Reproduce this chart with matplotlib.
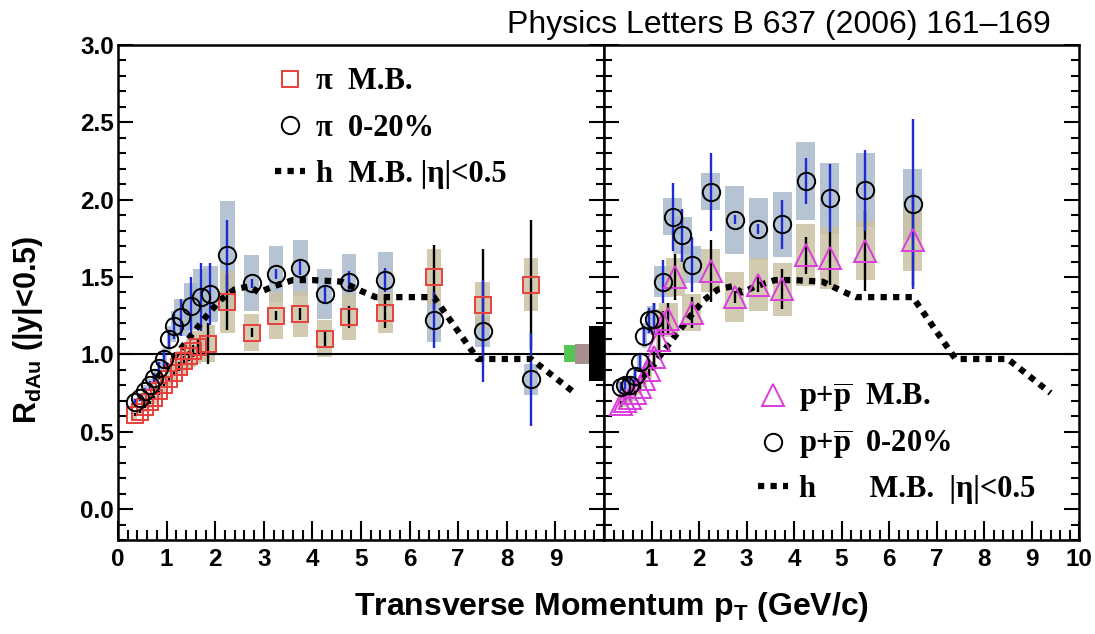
import numpy as np
import matplotlib
matplotlib.use("Agg")
import matplotlib.pyplot as plt
from matplotlib.ticker import MultipleLocator

plt.rcParams['font.family'] = ['Liberation Sans', 'DejaVu Sans']
plt.rcParams['mathtext.fontset'] = 'custom'
plt.rcParams['mathtext.sf'] = 'Liberation Sans:bold'
plt.rcParams['mathtext.bf'] = 'Liberation Serif:bold'
plt.rcParams['mathtext.rm'] = 'Liberation Serif:bold'

# ---- left panel: pions ----
pi_mb_pt = [0.35, 0.45, 0.55, 0.65, 0.75, 0.85, 0.95, 1.05, 1.15, 1.25, 1.35, 1.45, 1.55, 1.65, 1.85,
            2.25, 2.75, 3.25, 3.75, 4.25, 4.75, 5.5, 6.5, 7.5, 8.5]
pi_mb_r = [0.61, 0.63, 0.66, 0.69, 0.72, 0.76, 0.80, 0.84, 0.88, 0.92, 0.96, 0.99, 1.02, 1.05, 1.07,
           1.34, 1.14, 1.25, 1.26, 1.10, 1.24, 1.27, 1.50, 1.32, 1.45]
pi_mb_stat = [0.01, 0.01, 0.01, 0.01, 0.01, 0.02, 0.02, 0.02, 0.02, 0.03, 0.03, 0.03, 0.04, 0.05, 0.13,
              0.18, 0.03, 0.03, 0.04, 0.05, 0.07, 0.10, 0.21, 0.36, 0.42]
pi_mb_sys = [0.03, 0.03, 0.03, 0.04, 0.04, 0.04, 0.05, 0.05, 0.05, 0.06, 0.06, 0.07, 0.08, 0.10, 0.12,
             0.20, 0.12, 0.15, 0.15, 0.12, 0.15, 0.13, 0.18, 0.15, 0.17]

pi_c_pt = [0.35, 0.45, 0.55, 0.65, 0.75, 0.85, 0.95, 1.05, 1.15, 1.3, 1.5, 1.7, 1.9,
           2.25, 2.75, 3.25, 3.75, 4.25, 4.75, 5.5, 6.5, 7.5, 8.5]
pi_c_r = [0.69, 0.72, 0.76, 0.80, 0.85, 0.91, 0.97, 1.10, 1.18, 1.24, 1.31, 1.37, 1.39,
          1.64, 1.46, 1.52, 1.56, 1.39, 1.47, 1.48, 1.22, 1.15, 0.84]
pi_c_stat = [0.02, 0.02, 0.02, 0.03, 0.03, 0.04, 0.05, 0.06, 0.08, 0.12, 0.19, 0.22, 0.20,
             0.23, 0.03, 0.03, 0.05, 0.06, 0.07, 0.08, 0.18, 0.33, 0.30]
pi_c_sys = [0.03, 0.03, 0.04, 0.04, 0.05, 0.06, 0.07, 0.08, 0.10, 0.12, 0.15, 0.18, 0.18,
            0.35, 0.18, 0.18, 0.18, 0.16, 0.18, 0.18, 0.14, 0.10, 0.10]

# ---- right panel: protons ----
p_mb_pt = [0.35, 0.45, 0.55, 0.65, 0.75, 0.85, 0.95, 1.05, 1.15, 1.25, 1.35, 1.5, 1.85,
           2.25, 2.75, 3.25, 3.75, 4.25, 4.75, 5.5, 6.5]
p_mb_r = [0.68, 0.70, 0.72, 0.75, 0.79, 0.84, 0.90, 0.98, 1.09, 1.20, 1.23, 1.50, 1.27,
          1.54, 1.37, 1.45, 1.42, 1.64, 1.62, 1.67, 1.74]
p_mb_stat = [0.02, 0.02, 0.02, 0.02, 0.03, 0.03, 0.04, 0.05, 0.06, 0.08, 0.10, 0.15, 0.10,
             0.20, 0.04, 0.05, 0.13, 0.12, 0.17, 0.26, 0.30]
p_mb_sys = [0.04, 0.04, 0.04, 0.05, 0.05, 0.06, 0.06, 0.07, 0.08, 0.09, 0.10, 0.12, 0.12,
            0.14, 0.16, 0.17, 0.17, 0.20, 0.20, 0.19, 0.20]

p_c_pt = [0.35, 0.45, 0.55, 0.65, 0.75, 0.85, 0.95, 1.05, 1.25, 1.45, 1.65, 1.85,
          2.25, 2.75, 3.25, 3.75, 4.25, 4.75, 5.5, 6.5]
p_c_r = [0.79, 0.80, 0.80, 0.86, 0.95, 1.12, 1.22, 1.23, 1.47, 1.89, 1.77, 1.58,
         2.05, 1.87, 1.81, 1.84, 2.12, 2.01, 2.06, 1.97]
p_c_stat = [0.03, 0.03, 0.04, 0.04, 0.05, 0.06, 0.08, 0.10, 0.14, 0.22, 0.17, 0.18,
            0.25, 0.03, 0.03, 0.16, 0.15, 0.22, 0.26, 0.55]
p_c_sys = [0.04, 0.04, 0.05, 0.05, 0.06, 0.08, 0.09, 0.10, 0.10, 0.12, 0.12, 0.12,
           0.12, 0.22, 0.20, 0.21, 0.25, 0.23, 0.24, 0.23]

# ---- charged hadrons |eta|<0.5 (both panels) ----
h_pt = [0.8, 1.0, 1.2, 1.5, 1.8, 2.1, 2.4, 2.7, 2.9, 3.2, 3.6, 4.0, 4.6, 5.0, 5.3, 6.5, 7.4, 8.5, 9.4]
h_r = [0.85, 0.91, 1.00, 1.12, 1.24, 1.35, 1.42, 1.44, 1.40, 1.44, 1.48, 1.48, 1.47, 1.41, 1.37, 1.37,
       0.97, 0.97, 0.75]

# normalisation uncertainty boxes at R=1
norm_x0 = [9.17, 9.41, 9.70]
norm_x1 = [9.41, 9.70, 10.0]
norm_lo = [0.95, 0.94, 0.83]
norm_hi = [1.06, 1.07, 1.18]
norm_col = ['#55c655', '#a88e8e', '#000000']

C_BOX = '#a9b9cc'
MB_BOX = '#cbc2a4'
BLUE = '#1e2bd0'
RED = '#e8403c'
MAG = '#dd3cdd'
HDOT = (0, (1, 1))

fig = plt.figure(figsize=(10.95, 6.34), dpi=100)
ax1 = fig.add_axes([0.1078, 0.1483, 0.4438, 0.7808])
ax2 = fig.add_axes([0.5516, 0.1483, 0.4338, 0.7808])


def boxes(ax, pt, r, sys, color, wide):
    pt = np.array(pt)
    r = np.array(r)
    sys = np.array(sys)
    w = np.where(pt < 1.2, 0.1, wide)
    ax.bar(pt, 2 * sys, bottom=r - sys, width=w, color=color, alpha=0.85,
           edgecolor='none', zorder=1)


def draw_panel(ax, mb_pt, mb_r, mb_stat, mb_sys, c_pt, c_r, c_stat, c_sys, mb_marker, mb_color, wide):
    boxes(ax, c_pt, c_r, c_sys, C_BOX, wide)
    boxes(ax, mb_pt, mb_r, mb_sys, MB_BOX, wide)
    ax.axhline(1.0, color='k', lw=1.5, zorder=2)
    ax.errorbar(mb_pt, mb_r, yerr=mb_stat, fmt='none', ecolor='k', elinewidth=1.7, zorder=3)
    ax.errorbar(c_pt, c_r, yerr=c_stat, fmt='none', ecolor=BLUE, elinewidth=1.7, zorder=3)
    hl, = ax.plot(h_pt, h_r, color='k', lw=4.5, linestyle=HDOT, zorder=4)
    mbl, = ax.plot(mb_pt, mb_r, linestyle='none', marker=mb_marker, ms=12 if mb_marker == 's' else 16,
                   mfc='none', mec=mb_color, mew=1.4, zorder=5)
    cl, = ax.plot(c_pt, c_r, linestyle='none', marker='o', ms=12.5, mfc='none', mec='k', mew=1.4, zorder=6)
    return mbl, cl, hl


mbl1, cl1, hl1 = draw_panel(ax1, pi_mb_pt, pi_mb_r, pi_mb_stat, pi_mb_sys,
                            pi_c_pt, pi_c_r, pi_c_stat, pi_c_sys, 's', RED, 0.3)
for x0, x1, lo, hi, col in zip(norm_x0, norm_x1, norm_lo, norm_hi, norm_col):
    ax1.bar(x0, hi - lo, bottom=lo, width=x1 - x0, align='edge', color=col, edgecolor='none', zorder=2)

mbl2, cl2, hl2 = draw_panel(ax2, p_mb_pt, p_mb_r, p_mb_stat, p_mb_sys,
                            p_c_pt, p_c_r, p_c_stat, p_c_sys, '^', MAG, 0.4)

for ax in (ax1, ax2):
    ax.set_xlim(0, 10)
    ax.set_ylim(-0.2, 3.0)
    ax.xaxis.set_major_locator(MultipleLocator(1))
    ax.xaxis.set_minor_locator(MultipleLocator(0.2))
    ax.yaxis.set_major_locator(MultipleLocator(0.5))
    ax.yaxis.set_minor_locator(MultipleLocator(0.1))
    ax.tick_params(which='both', direction='in', left=True, right=True, top=False, width=1.5)
    ax.tick_params(axis='x', which='major', length=14, pad=6)
    ax.tick_params(axis='x', which='minor', length=7)
    ax.tick_params(axis='y', which='major', length=11, pad=3)
    ax.tick_params(axis='y', which='minor', length=5.5)
    for s in ax.spines.values():
        s.set_linewidth(1.8)

ax1.set_xticks(range(11), [str(i) for i in range(10)] + [''])
ax2.set_xticks(range(11), [''] + [str(i) for i in range(1, 11)])
ax2.set_yticklabels([])
for ax in (ax1, ax2):
    for lab in ax.get_xticklabels() + ax.get_yticklabels():
        lab.set_fontweight('bold')
        lab.set_fontsize(17.5)

leg_font = {'family': 'Liberation Serif', 'weight': 'bold', 'size': 22}
ax1.legend([mbl1, cl1, hl1], ['π  M.B.', 'π  0-20%', 'h  M.B. |η|<0.5'],
           loc='upper left', bbox_to_anchor=(0.322, 0.955), frameon=False, prop=leg_font,
           handlelength=1.0, handletextpad=0.35, labelspacing=0.57, borderpad=0, borderaxespad=0)
ax2.legend([mbl2, cl2, hl2],
           [r'p+$\mathbf{\overline{p}}$  M.B.', r'p+$\mathbf{\overline{p}}$  0-20%', 'h       M.B.  |η|<0.5'],
           loc='upper left', bbox_to_anchor=(0.3236, 0.321), frameon=False, prop=leg_font,
           handlelength=1.0, handletextpad=0.35, labelspacing=0.41, borderpad=0, borderaxespad=0)

fig.text(0.0256, 0.48, r'$\mathsf{R_{dAu}}$ (|y|<0.5)', rotation=90, ha='center', va='center',
         fontsize=22, fontweight='bold')
fig.text(0.558, 0.043, r'Transverse Momentum $\mathsf{p_{T}}$ (GeV/c)', ha='center', va='center',
         fontsize=23, fontweight='bold')
fig.text(507 / 1095, 1 - 33 / 634, 'Physics Letters B 637 (2006) 161\u2013169', ha='left', va='baseline',
         fontsize=23)

fig.savefig('out.png', dpi=100)
